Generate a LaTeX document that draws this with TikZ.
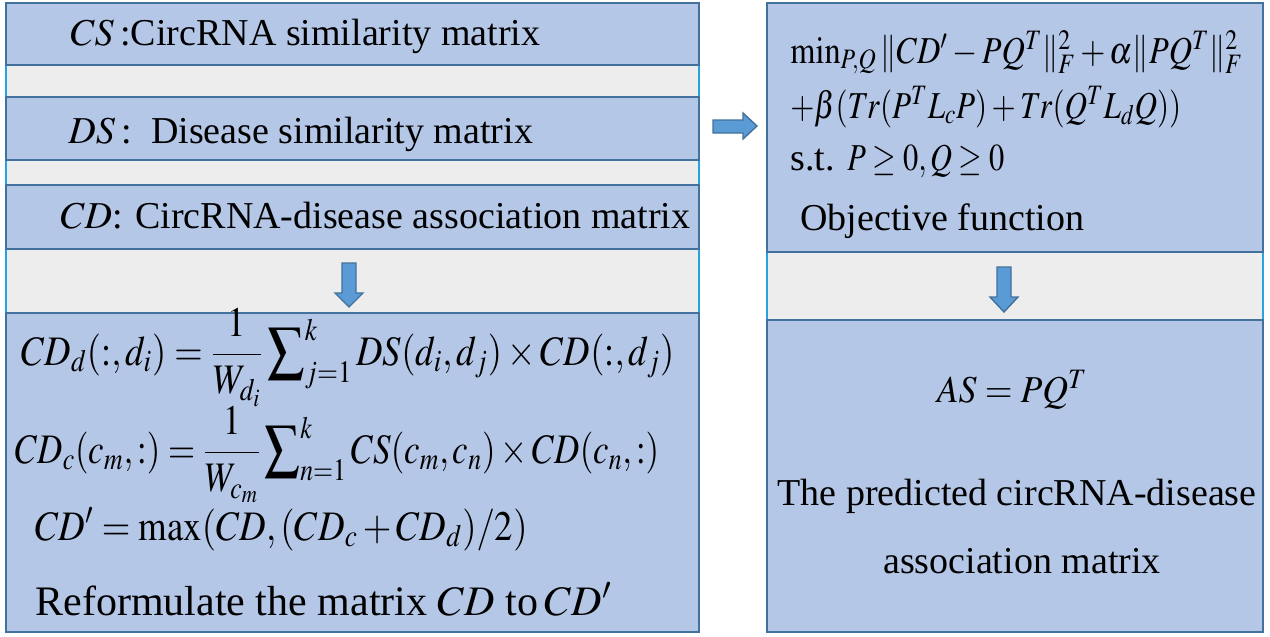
\documentclass[tikz,border=0pt]{standalone}
\usepackage{mathptmx}
\usepackage[no-math]{fontspec}
\setmainfont{Liberation Serif}

\definecolor{boxblue}{HTML}{B4C7E7}
\definecolor{boxedge}{HTML}{41719C}
\definecolor{stripgray}{HTML}{EDEDED}
\definecolor{stripedge}{HTML}{29A3E0}
\definecolor{arrowblue}{HTML}{5B9BD5}

% squeeze a formula sideways, keep its height
\newcommand{\narrow}[2]{\scalebox{#1}[1]{#2}}

\tikzset{
  panel/.style={fill=boxblue, draw=boxedge, line width=1.3pt},
  strip/.style={fill=stripgray, draw=stripedge, line width=1pt},
  blockarrow/.style={fill=arrowblue, draw=boxedge, line width=0.7pt, line join=miter},
  txt/.style={anchor=base west, inner sep=0pt, font=\fontsize{19}{23}\selectfont},
  bigtxt/.style={anchor=base west, inner sep=0pt, font=\fontsize{21}{25}\selectfont},
  ctxt/.style={anchor=base, inner sep=0pt, font=\fontsize{19}{23}\selectfont},
}

\begin{document}
\begin{tikzpicture}[x=0.5pt,y=-0.5pt]
\useasboundingbox (0,0) rectangle (1270,637);
% left column
\draw[strip] (6,3) rectangle (699,632);
\draw[panel] (6,3) rectangle (699,65);
\draw[panel] (6,97) rectangle (699,160);
\draw[panel] (6,185) rectangle (699,249);
\draw[panel] (6,313) rectangle (699,632);
% right column
\draw[strip] (767,3) rectangle (1263,632);
\draw[panel] (767,3) rectangle (1263,252);
\draw[panel] (767,320) rectangle (1263,632);

% block arrows
\draw[blockarrow] (342,263) -- (356,263) -- (356,293) -- (363,293) -- (349,307) -- (335,293) -- (342,293) -- cycle;
\draw[blockarrow] (997,267) -- (1011,267) -- (1011,297) -- (1018,297) -- (1004,312) -- (990,297) -- (997,297) -- cycle;
\draw[blockarrow] (713,120) -- (743,120) -- (743,113) -- (757,126) -- (743,139) -- (743,133) -- (713,133) -- cycle;

% inputs
\node[txt] (cs) at (70,46) {$CS$\,:CircRNA similarity matrix};
\node[txt] (ds) at (68,143) {$DS$\,:\, Disease similarity matrix};
\node[txt] (cd) at (60,228) {$CD$: CircRNA-disease association matrix};

% reformulation
\node[bigtxt] (cdd) at (21,365) {\narrow{0.87}{$\displaystyle CD_d(:,d_i)=\frac{1}{W_{d_i}}\sum\nolimits_{j=1}^{k} DS(d_i,d_j)\times CD(:,d_j)$}};
\node[bigtxt] (cdc) at (15,463) {\narrow{0.83}{$\displaystyle CD_c(c_m,:)=\frac{1}{W_{c_m}}\sum\nolimits_{n=1}^{k} CS(c_m,c_n)\times CD(c_n,:)$}};
\node[bigtxt] (cdp) at (35,540) {\narrow{0.875}{$CD'=\max(CD,(CD_c+CD_d)/2)$}};
\node[bigtxt] (reform) at (35,615) {Reformulate the matrix $CD$ to\,$CD'$};

% objective
\node[txt] (obj1) at (790,63) {\narrow{0.85}{$\min\nolimits_{P,Q}\|CD'-PQ^T\|_F^2+\alpha\|PQ^T\|_F^2$}};
\node[txt] (obj2) at (790,118) {\narrow{0.82}{$+\beta(Tr(P^TL_cP)+Tr(Q^TL_dQ))$}};
\node[txt] (obj3) at (790,170) {s.t. \narrow{0.8}{$P\geq 0,Q\geq 0$}};
\node[txt] (objname) at (800,230) {Objective function};

% result
\node[ctxt] (as) at (1012,402) {\narrow{0.94}{$AS=PQ^T$}};
\node[ctxt] (pred1) at (1017,505) {The predicted circRNA-disease};
\node[ctxt] (pred2) at (1022,573) {association matrix};
\end{tikzpicture}
\end{document}
